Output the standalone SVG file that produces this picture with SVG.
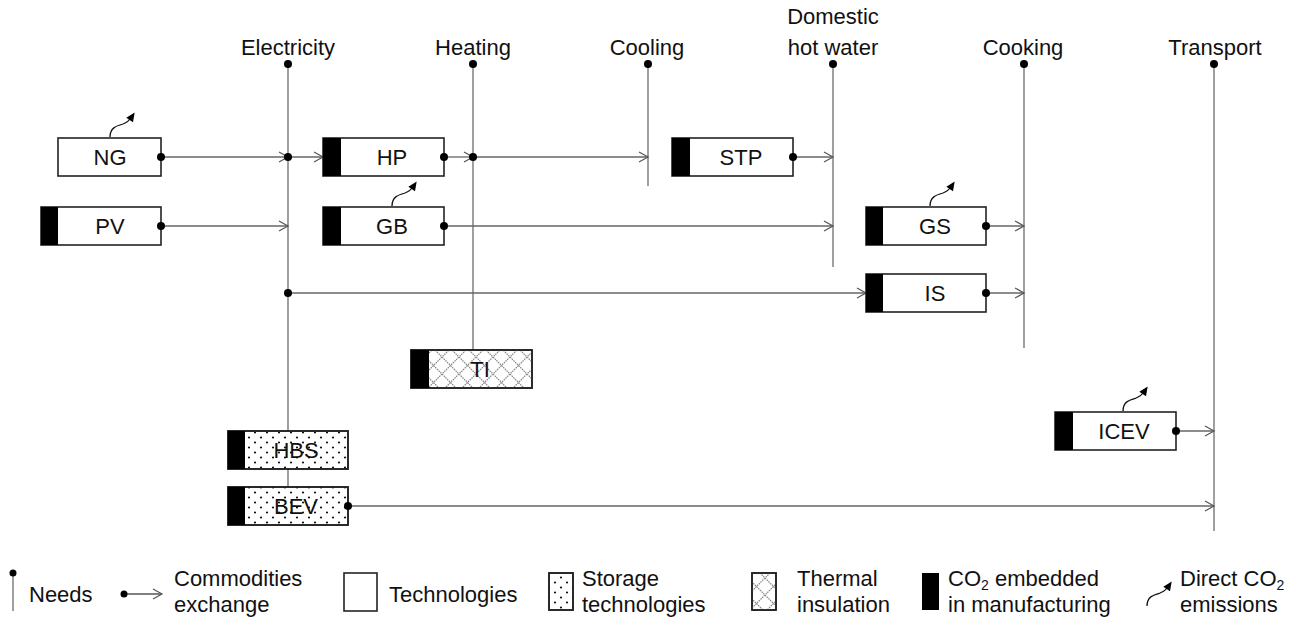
<svg xmlns="http://www.w3.org/2000/svg" width="1296" height="619" viewBox="0 0 1296 619">
<style>
text{font-family:"Liberation Sans",Arial,sans-serif;font-size:22px;fill:#111}
.lbl{text-anchor:middle}
.need{stroke:#777;stroke-width:1.4;fill:none}
.con{stroke:#666;stroke-width:1.3;fill:none;marker-end:url(#arr)}
.box{fill:#fff;stroke:#222;stroke-width:1.6}
.frame{fill:none;stroke:#222;stroke-width:1.6}
.bar{fill:#000}
.em{stroke:#111;stroke-width:1.3;fill:none;marker-end:url(#tri)}
.sub{font-size:14px}
</style>
<defs>
<marker id="arr" markerUnits="userSpaceOnUse" markerWidth="12" markerHeight="12" refX="9" refY="5" orient="auto" overflow="visible">
<path d="M0,0 L9,5 L0,10" fill="none" stroke="#555" stroke-width="1.2"/>
</marker>
<marker id="tri" markerUnits="userSpaceOnUse" markerWidth="12" markerHeight="12" refX="6" refY="4" orient="auto" overflow="visible">
<path d="M0,0 L9,4 L0,8 Z" fill="#000"/>
</marker>
<pattern id="dots" patternUnits="userSpaceOnUse" width="12" height="10">
<circle cx="3" cy="2.5" r="1.1" fill="#111"/>
<circle cx="9" cy="7.5" r="1.1" fill="#111"/>
</pattern>
<pattern id="hatch" patternUnits="userSpaceOnUse" width="17" height="17">
<path d="M0,0 L17,17 M17,0 L0,17" stroke="#888" stroke-width="1.2" stroke-dasharray="1.6,0.8"/>
</pattern>
</defs>

<g id="needs">
<g id="need-electricity"><text class="lbl" x="288" y="55">Electricity</text><line class="need" x1="288" y1="64" x2="288" y2="487"/><circle cx="288" cy="64" r="4"/></g>
<g id="need-heating"><text class="lbl" x="473" y="55">Heating</text><line class="need" x1="473" y1="64" x2="473" y2="350"/><circle cx="473" cy="64" r="4"/></g>
<g id="need-cooling"><text class="lbl" x="647" y="55">Cooling</text><line class="need" x1="648" y1="64" x2="648" y2="186"/><circle cx="648" cy="64" r="4"/></g>
<g id="need-dhw"><text class="lbl" x="833" y="24">Domestic</text><text class="lbl" x="833" y="55">hot water</text><line class="need" x1="833" y1="64" x2="833" y2="267"/><circle cx="833" cy="64" r="4"/></g>
<g id="need-cooking"><text class="lbl" x="1023" y="55">Cooking</text><line class="need" x1="1024" y1="64" x2="1024" y2="348"/><circle cx="1024" cy="64" r="4"/></g>
<g id="need-transport"><text class="lbl" x="1215" y="55">Transport</text><line class="need" x1="1214" y1="64" x2="1214" y2="531" stroke-width="2"/><circle cx="1214" cy="64" r="4"/></g>
</g>

<g id="connectors">
<path class="con" d="M161,157 H288"/>
<path class="con" d="M288,157 H323"/>
<path class="con" d="M444,157 H473"/>
<path class="con" d="M473,157 H648"/>
<path class="con" d="M793,157 H833"/>
<path class="con" d="M161,226 H288"/>
<path class="con" d="M444,226 H833"/>
<path class="con" d="M986,226 H1024"/>
<path class="con" d="M288,293 H866"/>
<path class="con" d="M986,293 H1024"/>
<path class="con" d="M1176,431 H1214"/>
<path class="con" d="M348,506 H1214"/>
<circle cx="288" cy="157" r="4"/>
<circle cx="473" cy="157" r="4"/>
<circle cx="288" cy="293" r="4"/>
</g>

<g id="NG"><rect class="box" x="58" y="138" width="103" height="38"/><text class="lbl" x="110" y="165">NG</text><circle cx="161" cy="157" r="4"/><path class="em" d="M110,137 C110,128 116,126 123,124 C129,122 131,118 133,115"/></g>
<g id="HP"><rect class="box" x="323" y="138" width="121" height="38"/><rect class="bar" x="323" y="138" width="18" height="38"/><text class="lbl" x="392" y="165">HP</text><circle cx="444" cy="157" r="4"/></g>
<g id="STP"><rect class="box" x="672" y="138" width="121" height="38"/><rect class="bar" x="672" y="138" width="18" height="38"/><text class="lbl" x="741" y="165">STP</text><circle cx="793" cy="157" r="4"/></g>
<g id="PV"><rect class="box" x="41" y="207" width="120" height="38"/><rect class="bar" x="41" y="207" width="17" height="38"/><text class="lbl" x="110" y="234">PV</text><circle cx="161" cy="226" r="4"/></g>
<g id="GB"><rect class="box" x="323" y="207" width="121" height="38"/><rect class="bar" x="323" y="207" width="18" height="38"/><text class="lbl" x="392" y="234">GB</text><circle cx="444" cy="226" r="4"/><path class="em" d="M392,206 C392,197 398,195 405,193 C411,191 413,187 415,184"/></g>
<g id="GS"><rect class="box" x="866" y="207" width="120" height="38"/><rect class="bar" x="866" y="207" width="17" height="38"/><text class="lbl" x="935" y="234">GS</text><circle cx="986" cy="226" r="4"/><path class="em" d="M930,206 C930,197 936,195 943,193 C949,191 951,187 953,184"/></g>
<g id="IS"><rect class="box" x="866" y="274" width="120" height="38"/><rect class="bar" x="866" y="274" width="17" height="38"/><text class="lbl" x="935" y="301">IS</text><circle cx="986" cy="293" r="4"/></g>
<g id="TI"><rect class="box" x="411" y="350" width="121" height="38"/><rect x="429" y="350" width="103" height="38" fill="url(#hatch)"/><rect class="frame" x="411" y="350" width="121" height="38"/><rect class="bar" x="411" y="350" width="18" height="38"/><text class="lbl" x="480" y="377">TI</text></g>
<g id="ICEV"><rect class="box" x="1055" y="412" width="121" height="38"/><rect class="bar" x="1055" y="412" width="18" height="38"/><text class="lbl" x="1124" y="439">ICEV</text><circle cx="1176" cy="431" r="4"/><path class="em" d="M1123,411 C1123,402 1129,400 1136,398 C1142,396 1144,392 1146,389"/></g>
<g id="HBS"><rect class="box" x="228" y="431" width="120" height="38"/><rect x="245" y="431" width="103" height="38" fill="url(#dots)"/><rect class="frame" x="228" y="431" width="120" height="38"/><rect class="bar" x="228" y="431" width="17" height="38"/><text class="lbl" x="296" y="458">HBS</text></g>
<g id="BEV"><rect class="box" x="228" y="487" width="120" height="38"/><rect x="245" y="487" width="103" height="38" fill="url(#dots)"/><rect class="frame" x="228" y="487" width="120" height="38"/><rect class="bar" x="228" y="487" width="17" height="38"/><text class="lbl" x="296" y="514">BEV</text><circle cx="348" cy="506" r="4"/></g>

<g id="legend">
<g id="leg-needs"><line class="need" x1="13" y1="573" x2="13" y2="611"/><circle cx="13" cy="573" r="3.5"/><text x="29" y="602">Needs</text></g>
<g id="leg-comm"><line x1="124" y1="594" x2="162" y2="594" stroke="#555" stroke-width="1.3" marker-end="url(#arr)"/><circle cx="124" cy="594" r="3.5"/><text x="174" y="586">Commodities</text><text x="174" y="612">exchange</text></g>
<g id="leg-tech"><rect class="box" x="344" y="573" width="33" height="38"/><text x="389" y="602">Technologies</text></g>
<g id="leg-storage"><rect class="box" x="549" y="573" width="24" height="37"/><rect x="549" y="573" width="24" height="37" fill="url(#dots)"/><rect class="frame" x="549" y="573" width="24" height="37"/><text x="582" y="586">Storage</text><text x="582" y="612">technologies</text></g>
<g id="leg-thermal"><rect class="box" x="752" y="573" width="24" height="37"/><rect x="752" y="573" width="24" height="37" fill="url(#hatch)"/><rect class="frame" x="752" y="573" width="24" height="37"/><text x="797" y="586">Thermal</text><text x="797" y="612">insulation</text></g>
<g id="leg-co2"><rect class="bar" x="922" y="573" width="17" height="37"/><text x="948" y="586">CO<tspan class="sub" dy="4">2</tspan><tspan dy="-4"> embedded</tspan></text><text x="948" y="612">in manufacturing</text></g>
<g id="leg-direct"><path class="em" d="M1147,606 C1147,597 1153,595 1160,593 C1166,591 1168,587 1170,584"/><text x="1180" y="586">Direct CO<tspan class="sub" dy="4">2</tspan></text><text x="1180" y="612">emissions</text></g>
</g>
</svg>
